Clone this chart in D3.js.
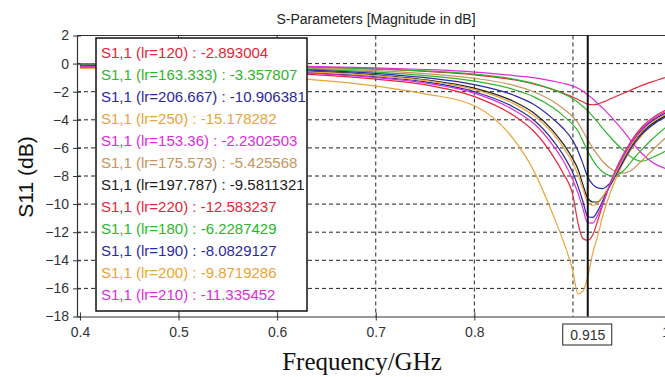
<!DOCTYPE html>
<html>
<head>
<meta charset="utf-8">
<script src="https://cdn.jsdelivr.net/npm/d3@7"></script>
<style>
  body { margin: 0; background: #fff; }
  svg { display: block; }
</style>
</head>
<body>
<div id="main"></div>
<script>
// frequencies (GHz) shared by every curve
var freqs = [0.40, 0.50, 0.60, 0.70, 0.75, 0.80, 0.84, 0.86, 0.88, 0.89, 0.90, 0.905,
             0.91, 0.915, 0.92, 0.925, 0.93, 0.94, 0.95, 0.96, 0.97, 0.98, 1.00];

// S11 in dB
var s120    = [-0.05, -0.1, -0.2, -0.4, -0.55, -0.8, -1.15, -1.45, -1.85, -2.1, -2.4, -2.55, -2.72, -2.89, -2.93, -2.88, -2.75, -2.45, -2.15, -1.85, -1.55, -1.3, -0.85];
var s163    = [-0.05, -0.1, -0.2, -0.38, -0.52, -0.75, -1.1, -1.4, -1.85, -2.15, -2.5, -2.75, -3.05, -3.36, -3.75, -4.15, -4.6, -5.4, -6.1, -6.7, -6.95, -6.7, -6.0];
var s206    = [-0.2, -0.32, -0.55, -0.95, -1.3, -2.0, -3.1, -4.0, -5.5, -6.5, -7.8, -8.7, -9.8, -10.9, -10.95, -10.5, -9.8, -8.2, -6.8, -5.6, -4.7, -4.1, -3.3];
var s250    = [-0.35, -0.55, -0.95, -1.6, -2.15, -3.0, -5.4, -7.6, -10.8, -12.6, -14.8, -16.4, -16.2, -15.18, -13.5, -12.3, -10.9, -8.8, -7.2, -6.0, -5.1, -4.4, -3.4];
var s153    = [0.0, -0.05, -0.15, -0.3, -0.42, -0.6, -0.85, -1.0, -1.25, -1.4, -1.6, -1.75, -1.95, -2.23, -2.5, -2.85, -3.15, -3.9, -4.7, -5.6, -6.4, -7.0, -7.6];
var s175    = [-0.1, -0.15, -0.28, -0.5, -0.72, -1.05, -1.55, -2.0, -2.7, -3.2, -3.8, -4.2, -4.8, -5.43, -6.0, -6.5, -6.95, -7.55, -7.8, -7.55, -6.9, -6.2, -4.9];
var s197    = [-0.15, -0.25, -0.45, -0.8, -1.15, -1.75, -2.7, -3.5, -4.8, -5.7, -6.8, -7.5, -8.6, -9.58, -9.85, -9.85, -9.5, -8.4, -7.0, -5.8, -4.9, -4.3, -3.5];
var s220    = [-0.25, -0.4, -0.65, -1.1, -1.5, -2.35, -3.7, -4.8, -6.6, -7.8, -9.4, -11.3, -12.45, -12.58, -12.2, -11.2, -10.1, -8.1, -6.6, -5.4, -4.5, -3.9, -3.1];
var s180    = [-0.1, -0.18, -0.32, -0.6, -0.85, -1.25, -1.85, -2.35, -3.15, -3.7, -4.35, -4.8, -5.5, -6.23, -6.85, -7.35, -7.7, -8.0, -7.7, -6.9, -6.1, -5.4, -4.2];
var s190    = [-0.12, -0.2, -0.38, -0.7, -1.0, -1.5, -2.25, -2.9, -3.95, -4.6, -5.5, -6.2, -7.1, -8.08, -8.6, -8.85, -8.9, -8.3, -7.1, -5.9, -5.0, -4.4, -3.6];
var s200    = [-0.2, -0.3, -0.5, -0.85, -1.2, -1.85, -2.85, -3.7, -5.0, -5.95, -7.1, -7.9, -8.9, -9.87, -10.1, -9.95, -9.5, -8.25, -6.9, -5.7, -4.8, -4.2, -3.4];
var s210    = [-0.22, -0.35, -0.58, -1.0, -1.38, -2.1, -3.3, -4.25, -5.85, -6.9, -8.3, -9.2, -10.3, -11.34, -11.35, -10.8, -10.0, -8.15, -6.7, -5.5, -4.6, -4.0, -3.2];

// legend order
var lrNames   = ["120", "163.333", "206.667", "250", "153.36", "175.573", "197.787", "220", "180", "190", "200", "210"];
var markerVal = ["-2.893004", "-3.357807", "-10.906381", "-15.178282", "-2.2302503", "-5.425568",
                 "-9.5811321", "-12.583237", "-6.2287429", "-8.0829127", "-9.8719286", "-11.335452"];
var colors    = ["#e4263a", "#2db52d", "#2a2a9c", "#eba33a", "#dc2cdc", "#c8955a",
                 "#202020", "#e4263a", "#2db52d", "#2a2aa8", "#eba33a", "#dc2cdc"];
var seriesVals = [s120, s163, s206, s250, s153, s175, s197, s220, s180, s190, s200, s210];

var xTicks = [0.4, 0.5, 0.6, 0.7, 0.8, 1.0];
var yTicks = [2, 0, -2, -4, -6, -8, -10, -12, -14, -16, -18];
var marker = 0.915;

var ctx = {
    w: 665,
    h: 377,
    left: 77,
    top: 35.5,
    bottom: 316.5,
};

var svg = d3.select("#main").append("svg")
    .attr("width", ctx.w)
    .attr("height", ctx.h)
    .style("font-family", "'Liberation Sans', Arial, sans-serif");

var x = d3.scaleLinear().domain([0.397, 1.0]).range([ctx.left, ctx.left + 0.603 * 986]);
var y = d3.scaleLinear().domain([2, -18]).range([ctx.top, ctx.bottom]);

svg.append("defs").append("clipPath").attr("id", "plot")
    .append("rect")
    .attr("x", ctx.left).attr("y", ctx.top)
    .attr("width", ctx.w - ctx.left).attr("height", ctx.bottom - ctx.top);

// title
svg.append("text")
    .attr("x", 376).attr("y", 24)
    .attr("text-anchor", "middle")
    .style("font-size", "14px")
    .attr("fill", "#222")
    .text("S-Parameters [Magnitude in dB]");

// grid
var grid = svg.append("g");
grid.selectAll("line.h")
    .data(yTicks.filter(function (d) { return d < 2 && d > -18; }))
    .enter().append("line")
    .attr("x1", ctx.left).attr("x2", ctx.w)
    .attr("y1", function (d) { return y(d); })
    .attr("y2", function (d) { return y(d); })
    .attr("stroke", "#222").attr("stroke-dasharray", "4,3");
grid.selectAll("line.v")
    .data([0.5, 0.6, 0.7, 0.8, 0.9])
    .enter().append("line")
    .attr("y1", ctx.top).attr("y2", ctx.bottom)
    .attr("x1", function (d) { return x(d); })
    .attr("x2", function (d) { return x(d); })
    .attr("stroke", "#222").attr("stroke-dasharray", "4,3");

// curves
var line = d3.line()
    .x(function (d) { return x(d[0]); })
    .y(function (d) { return y(d[1]); })
    .curve(d3.curveMonotoneX);

svg.append("g").attr("clip-path", "url(#plot)")
    .selectAll("path")
    .data(seriesVals)
    .enter().append("path")
    .attr("d", function (vals) { return line(freqs.map(function (f, i) { return [f, vals[i]]; })); })
    .attr("fill", "none")
    .attr("stroke", function (d, i) { return colors[i]; })
    .attr("stroke-width", 1.2);

// frame: top line, left and bottom axes
svg.append("line")
    .attr("x1", ctx.left).attr("x2", ctx.w)
    .attr("y1", ctx.top).attr("y2", ctx.top)
    .attr("stroke", "#333");

var yAxis = svg.append("g")
    .attr("transform", "translate(" + ctx.left + ",0)")
    .call(d3.axisLeft(y).tickValues(yTicks).tickSize(4).tickSizeOuter(0).tickFormat(d3.format("d")));
yAxis.selectAll(".tick line").attr("x2", 4).attr("x1", -4);

var xAxis = svg.append("g")
    .attr("transform", "translate(0," + ctx.bottom + ")")
    .call(d3.axisBottom(x).tickValues(xTicks).tickSize(4).tickSizeOuter(0).tickFormat(d3.format(".1f")));
xAxis.selectAll(".tick line").attr("y1", -4).attr("y2", 4);

[yAxis, xAxis].forEach(function (a) {
    a.select(".domain").attr("stroke", "#333").attr("stroke-width", 1.2);
    a.selectAll(".tick line").attr("stroke", "#333");
    a.selectAll("text")
        .style("font-size", "14px")
        .style("font-family", "'Liberation Sans', Arial, sans-serif")
        .attr("fill", "#333");
});
yAxis.selectAll("text").attr("x", -8);
xAxis.selectAll("text").attr("y", 11);

// marker at 0.915
svg.append("line")
    .attr("x1", x(marker)).attr("x2", x(marker))
    .attr("y1", ctx.top).attr("y2", ctx.bottom)
    .attr("stroke", "#111").attr("stroke-width", 2);
svg.append("rect")
    .attr("x", x(marker) - 25).attr("y", 324)
    .attr("width", 49).attr("height", 21)
    .attr("fill", "#fff").attr("stroke", "#222");
svg.append("text")
    .attr("x", x(marker)).attr("y", 340)
    .attr("text-anchor", "middle")
    .style("font-size", "14px")
    .attr("fill", "#333")
    .text("0.915");

// legend
var legend = svg.append("g");
legend.append("rect")
    .attr("x", 96).attr("y", 38)
    .attr("width", 211).attr("height", 273)
    .attr("fill", "#fff").attr("stroke", "#111").attr("stroke-width", 1.5);
legend.selectAll("text")
    .data(lrNames)
    .enter().append("text")
    .attr("x", 101)
    .attr("y", function (d, i) { return 57.5 + i * 22.07; })
    .style("font-size", "15px")
    .attr("fill", function (d, i) { return colors[i]; })
    .text(function (d, i) { return "S1,1 (lr=" + d + ") : " + markerVal[i]; });

// axis titles
svg.append("text")
    .attr("transform", "translate(33,177) rotate(-90)")
    .attr("text-anchor", "middle")
    .style("font-size", "21px")
    .attr("fill", "#111")
    .text("S11 (dB)");
svg.append("text")
    .attr("x", 362).attr("y", 370)
    .attr("text-anchor", "middle")
    .style("font-family", "'Liberation Serif', 'Times New Roman', serif")
    .style("font-size", "25px")
    .attr("fill", "#111")
    .text("Frequency/GHz");
</script>
</body>
</html>
